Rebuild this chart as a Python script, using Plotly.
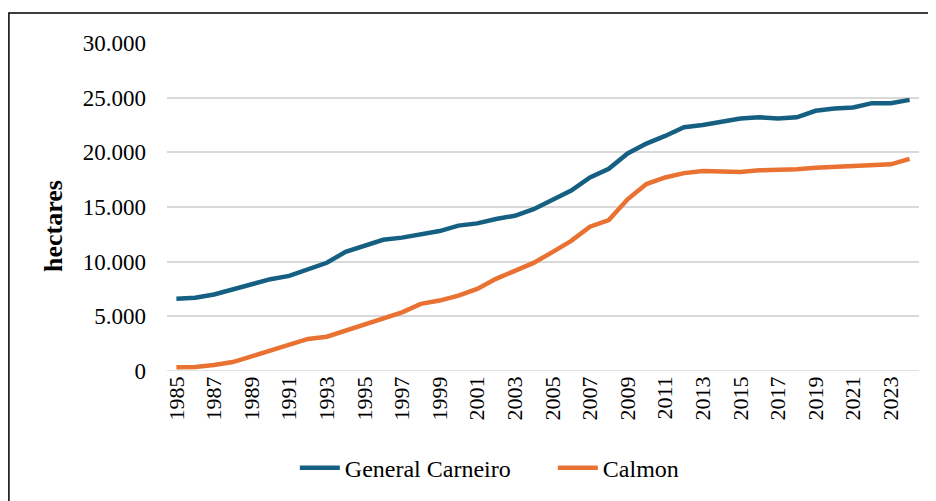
import plotly.graph_objects as go

years = list(range(1985, 2025))
general_carneiro = [6600, 6700, 7000, 7500, 7900, 8400, 8700, 9300, 9900, 10900,
                    11400, 12000, 12200, 12500, 12800, 13300, 13500, 13900, 14200, 14800,
                    15600, 16500, 17700, 18500, 19900, 20800, 21500, 22300, 22500, 22800,
                    23100, 23200, 23100, 23200, 23800, 24000, 24100, 24500, 24500, 24800]
calmon = [350, 370, 550, 820, 1340, 1860, 2320, 2930, 3140, 3690,
          4210, 4820, 5370, 6140, 6440, 6900, 7510, 8430, 9190, 9890,
          10870, 11900, 13200, 13800, 15700, 17100, 17700, 18100, 18300, 18300,
          18200, 18350, 18350, 18450, 18600, 18700, 18750, 18900, 18900, 19400]
y_ticks = [0, 5000, 10000, 15000, 20000, 25000, 30000]
y_tick_labels = ["0", "5.000", "10.000", "15.000", "20.000", "25.000", "30.000"]
y_title = "hectares"

FONT = "Liberation Serif"
PLOT_L, PLOT_W, PLOT_B, PLOT_H = 159, 752, 363, 328

fig = go.Figure()
fig.add_trace(go.Scatter(x=years, y=general_carneiro, mode="lines", name="General Carneiro",
                         line=dict(color="#156082", width=4.5)))
fig.add_trace(go.Scatter(x=years, y=calmon, mode="lines", name="Calmon",
                         line=dict(color="#E97132", width=4.5)))

fig.update_layout(
    width=936, height=501,
    margin=dict(l=159, r=25, t=35, b=138),
    plot_bgcolor="white", paper_bgcolor="white",
    font=dict(family=FONT, color="black", size=22),
    showlegend=True,
    legend=dict(orientation="h", x=0.17, xanchor="left", y=-0.296, yanchor="middle",
                font=dict(family=FONT, size=24, color="black"), itemwidth=40,
                entrywidth=203, entrywidthmode="pixels"),
    xaxis=dict(range=[1984.5, 2024.5], tick0=1985, dtick=2, tickangle=-90,
               showgrid=False, zeroline=False, showline=False, ticks="",
               tickfont=dict(family=FONT, size=22, color="black")),
    yaxis=dict(range=[0, 30000], tickvals=y_ticks, ticktext=y_tick_labels,
               showgrid=True, gridcolor="#d9d9d9", gridwidth=1.5,
               zeroline=False, showline=False, ticks="", ticklabelstandoff=20,
               tickfont=dict(family=FONT, size=23, color="black")),
    shapes=[dict(type="rect", xref="paper", yref="paper",
                 x0=(0.9 - PLOT_L) / PLOT_W, x1=(945 - PLOT_L) / PLOT_W,
                 y0=(PLOT_B - 520) / PLOT_H, y1=(PLOT_B - 5) / PLOT_H,
                 line=dict(color="black", width=1.5), fillcolor="rgba(0,0,0,0)", layer="below")],
    annotations=[dict(text="<b>" + y_title + "</b>", xref="paper", yref="paper",
                      x=(46 - PLOT_L) / PLOT_W, y=(PLOT_B - 218) / PLOT_H,
                      xanchor="center", yanchor="middle", textangle=-90, showarrow=False,
                      font=dict(family=FONT, size=26, color="black"))],
)
fig.add_shape(type="line", xref="paper", yref="y", x0=0, x1=1, y0=0, y1=0,
              line=dict(color="#d9d9d9", width=1.5), layer="below")

fig.write_html("out.html")
